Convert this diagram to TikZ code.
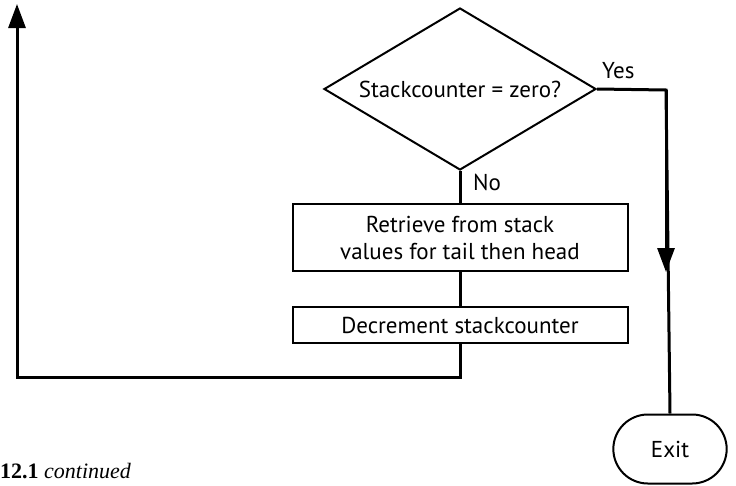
\documentclass[tikz,border=0pt]{standalone}
\usepackage{fontspec}
\setmainfont{PT Sans}
\newfontfamily\capfont{Liberation Serif}
\usetikzlibrary{shapes.geometric,shapes.misc,arrows.meta}
\begin{document}
\begin{tikzpicture}[x=1pt,y=-1pt,
  every node/.style={font=\fontsize{23}{27}\selectfont},
  boxst/.style={draw,line width=2pt,rectangle,minimum width=335pt,inner sep=0pt,align=center},
  conn/.style={line width=3pt},
  tip/.style={-{Triangle[length=24pt,width=17pt]}},
  lbl/.style={inner sep=0pt,anchor=base west}]
\useasboundingbox (0,0) rectangle (736,485);
\node[draw,line width=2pt,diamond,aspect=1.68,inner sep=0pt,minimum width=272pt,minimum height=162pt] (d) at (460,89) {Stackcounter = zero?};
\node[boxst,minimum height=67pt] (b1) at (460,237.5) {Retrieve from stack\\values for tail then head};
\node[boxst,minimum height=36pt] (b2) at (460,325) {Decrement stackcounter};
\node[draw,line width=2pt,rounded rectangle,minimum width=120pt,minimum height=69pt] (ex) at (670,449) {Exit};
\coordinate (lc) at (460,377);
\coordinate (ll) at (17,377);
\coordinate (top) at (17,4);
\coordinate (yc) at (666,90);
\coordinate (ya) at (666,272);
\draw[conn] (d.south) -- (b1.north);
\draw[conn] (b1.south) -- (b2.north);
\draw[conn,tip] (b2.south) -- (lc) -- (ll) -- (top);
\draw[conn] (d.east) -- (yc) -- (ex.north);
\draw[conn,tip] (yc) -- (ya);
\node[lbl] (yes) at (602,78) {Yes};
\node[lbl] (no) at (473,190) {No};
\node[inner sep=0pt,anchor=base west,font=\capfont\fontsize{22}{26}\selectfont] (cap) at (0,478) {\textbf{12.1} \textit{continued}};
\end{tikzpicture}
\end{document}
